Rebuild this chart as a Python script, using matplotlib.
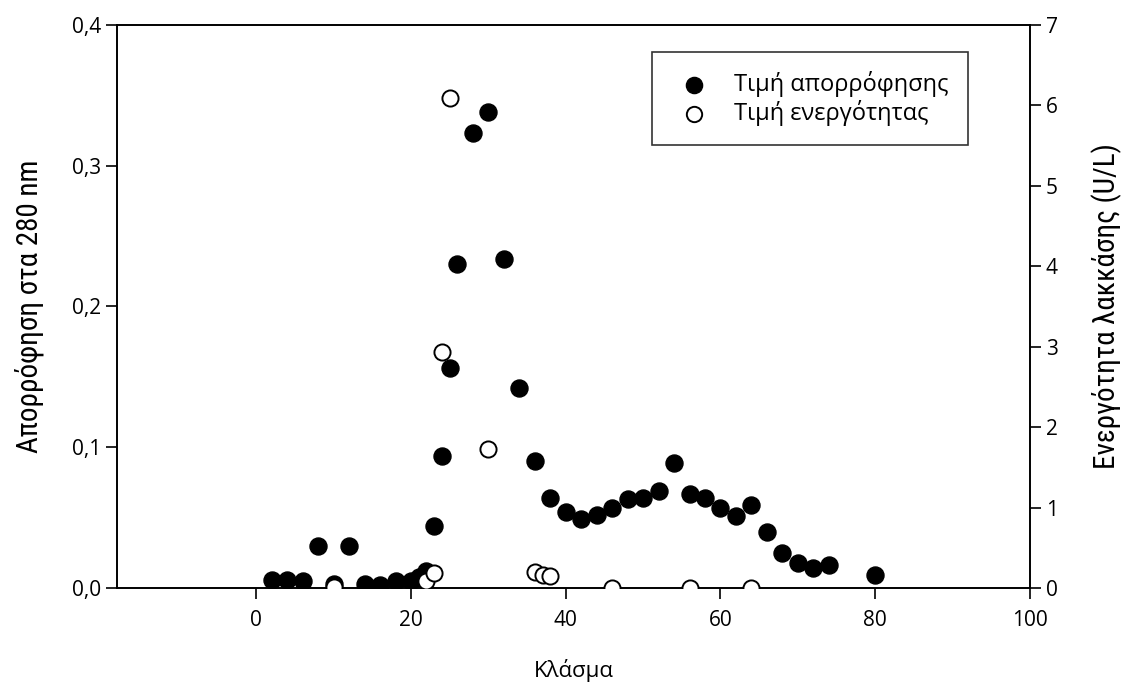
import matplotlib.pyplot as plt
from matplotlib import font_manager

# Κλάσματα και απορρόφηση στα 280 nm
frac_abs = [2, 4, 6, 8, 10, 12, 14, 16, 18, 20, 21, 22, 23, 24, 25, 26, 28, 30,
            32, 34, 36, 38, 40, 42, 44, 46, 48, 50, 52, 54, 56, 58, 60, 62, 64,
            66, 68, 70, 72, 74, 80]
absorb = [0.006, 0.006, 0.005, 0.030, 0.003, 0.030, 0.003, 0.002, 0.005, 0.005,
          0.008, 0.012, 0.044, 0.094, 0.156, 0.230, 0.323, 0.338, 0.234, 0.142,
          0.090, 0.064, 0.054, 0.049, 0.052, 0.057, 0.063, 0.064, 0.069, 0.089,
          0.067, 0.064, 0.057, 0.051, 0.059, 0.040, 0.025, 0.018, 0.014, 0.016,
          0.009]

# Κλάσματα και ενεργότητα λακκάσης (U/L)
frac_act = [10, 22, 23, 24, 25, 30, 36, 37, 38, 46, 56, 64]
activity = [0.01, 0.09, 0.19, 2.93, 6.09, 1.73, 0.20, 0.16, 0.15, 0.0, 0.0, 0.0]

names = {f.name for f in font_manager.fontManager.ttflist}
narrow = 'DejaVu Sans'
for cand in ['Liberation Sans Narrow', 'Roboto Condensed', 'Open Sans Condensed', 'Roboto']:
    if cand in names:
        narrow = cand
        break
plt.rcParams['font.family'] = ['Open Sans', 'DejaVu Sans']

fig = plt.figure(figsize=(11.26, 6.84), dpi=100)
ax = fig.add_axes([0.1039, 0.1404, 0.8108, 0.8231])
ax2 = ax.twinx()

ax.scatter(frac_abs, absorb, s=150, c='black', edgecolors='black', zorder=3,
           label='Τιμή απορρόφησης')
ax2.scatter(frac_act, activity, s=135, c='white', edgecolors='black',
            linewidths=1.4, zorder=3, label='Τιμή ενεργότητας')

ax.set_xlim(-18, 100)
ax.set_ylim(0, 0.4)
ax2.set_ylim(0, 7)
ax.set_xticks([0, 20, 40, 60, 80, 100])
ax.set_yticks([0, 0.1, 0.2, 0.3, 0.4])
ax.set_yticklabels(['0,0', '0,1', '0,2', '0,3', '0,4'])
ax2.set_yticks(range(8))

for a in (ax, ax2):
    a.tick_params(direction='out', length=8, width=1.2, labelsize=15, colors='black')
    for sp in a.spines.values():
        sp.set_linewidth(1.2)
ax.tick_params(axis='x', labelsize=15, pad=8)

ax.set_xlabel('Κλάσμα', fontsize=16, labelpad=20)
ax.set_ylabel('Απορρόφηση στα 280 nm', fontsize=21, family=narrow, labelpad=20)
ax2.set_ylabel('Ενεργότητα λακκάσης (U/L)', fontsize=21, family=narrow, labelpad=24)

h1, l1 = ax.get_legend_handles_labels()
h2, l2 = ax2.get_legend_handles_labels()
leg = ax2.legend(h1 + h2, l1 + l2, loc='upper right', bbox_to_anchor=(0.932, 0.952),
                 fontsize=17, frameon=True, fancybox=False, edgecolor='black',
                 markerscale=0.95, borderpad=0.8, handletextpad=0.7,
                 labelspacing=0.15, borderaxespad=0)
leg.get_frame().set_linewidth(1.2)

fig.savefig('out.png', dpi=100)
